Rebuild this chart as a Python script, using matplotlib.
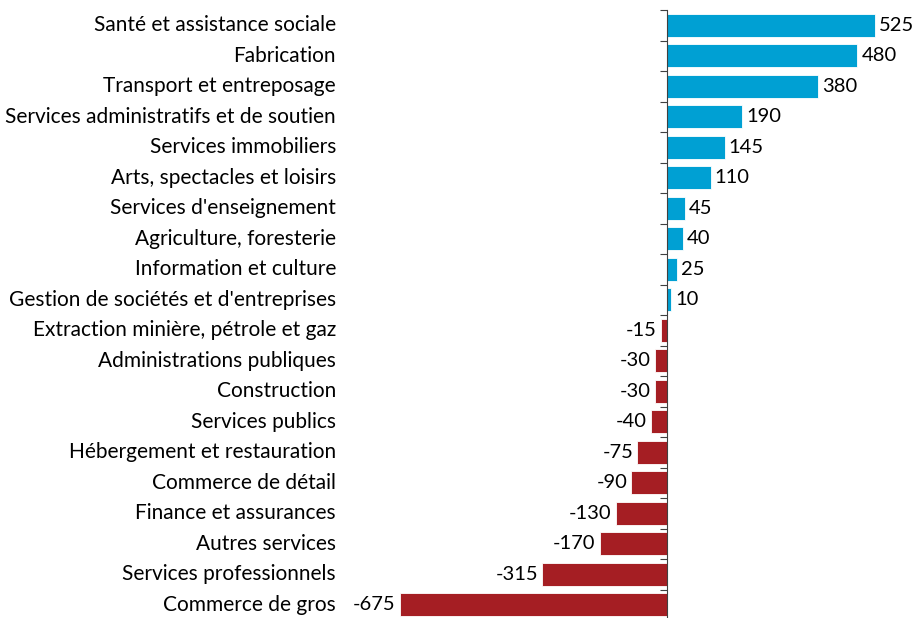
import matplotlib.pyplot as plt
from matplotlib.transforms import blended_transform_factory

categories = ["Santé et assistance sociale", "Fabrication", "Transport et entreposage",
              "Services administratifs et de soutien", "Services immobiliers",
              "Arts, spectacles et loisirs", "Services d'enseignement",
              "Agriculture, foresterie", "Information et culture",
              "Gestion de sociétés et d'entreprises", "Extraction minière, pétrole et gaz",
              "Administrations publiques", "Construction", "Services publics",
              "Hébergement et restauration", "Commerce de détail", "Finance et assurances",
              "Autres services", "Services professionnels", "Commerce de gros"]
values = [525, 480, 380, 190, 145, 110, 45, 40, 25, 10,
          -15, -30, -30, -40, -75, -90, -130, -170, -315, -675]

blue = "#00A0D3"
red = "#A51E23"
plt.rcParams['font.family'] = ['Lato', 'DejaVu Sans']

fig = plt.figure(figsize=(9.13, 6.18), dpi=100)
ax = fig.add_axes([395 / 913, -2 / 618, 505 / 913, 610 / 618])

ypos = list(range(len(categories)))
colors = [blue if v >= 0 else red for v in values]
ax.barh(ypos, values, height=0.75, color=colors, edgecolor="white", linewidth=0.6, zorder=2)

ax.set_xlim(-687, 588)
ax.set_ylim(len(categories) - 0.5, -0.5)

for s in ["top", "right", "bottom"]:
    ax.spines[s].set_visible(False)
ax.spines["left"].set_position(("data", 0))
ax.spines["left"].set_color("#404040")
ax.spines["left"].set_zorder(3)
ax.set_xticks([])
ax.set_yticks([])
ax.set_yticks([i - 0.5 for i in range(len(categories) + 1)], minor=True)
ax.tick_params(axis="y", which="minor", direction="out", length=5, width=0.8, color="#404040", labelleft=False)

for y, v in zip(ypos, values):
    if v >= 0:
        ax.annotate(str(v), (v, y), xytext=(3, 0), textcoords="offset points",
                    ha="left", va="center", fontsize=14.5, color="black")
    else:
        ax.annotate(str(v), (v, y), xytext=(-3, 0), textcoords="offset points",
                    ha="right", va="center", fontsize=14.5, color="black")

trans = blended_transform_factory(fig.transFigure, ax.transData)
for y, c in zip(ypos, categories):
    fig.text(336 / 913, y, c, transform=trans, ha="right", va="center", fontsize=15, color="black")

fig.savefig("out.png", dpi=100)
